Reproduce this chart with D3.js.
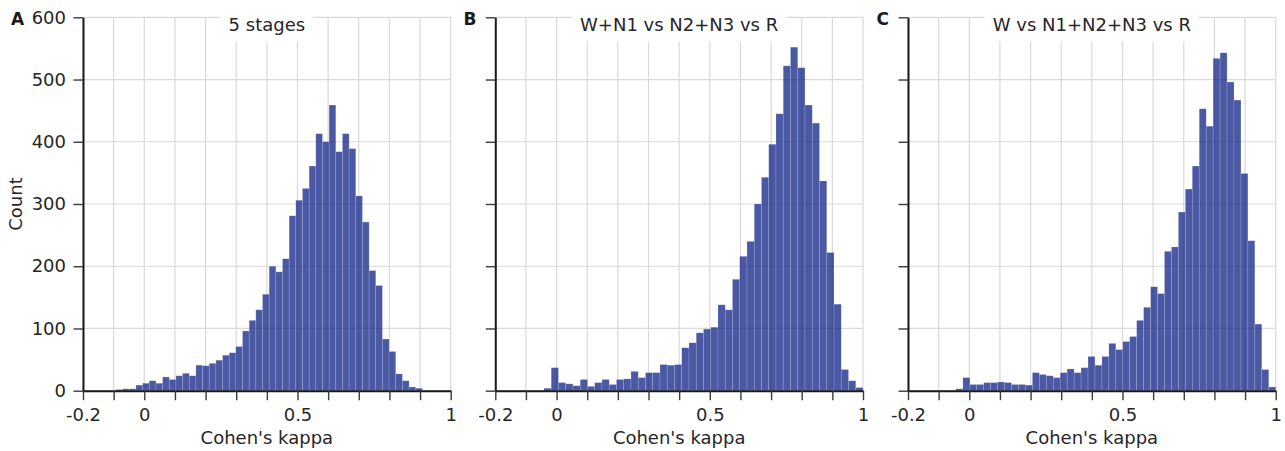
<!DOCTYPE html>
<html>
<head>
<meta charset="utf-8">
<script src="https://cdn.jsdelivr.net/npm/d3@7"></script>
<style>
  html, body { margin: 0; padding: 0; background: #ffffff; }
  svg { display: block; font-family: "DejaVu Sans", sans-serif; }
</style>
</head>
<body>
<svg id="chart" width="1285" height="451"></svg>
<script>
// ---------------- data ----------------
const panelLetters = ["A", "B", "C"];
const panelTitles = ["5 stages", "W+N1 vs N2+N3 vs R", "W vs N1+N2+N3 vs R"];
const xLabel = "Cohen's kappa";
const yLabel = "Count";
const xTickValues = [-0.2, -0.1, 0, 0.1, 0.2, 0.3, 0.4, 0.5, 0.6, 0.7, 0.8, 0.9, 1.0];
const xTickLabels = ["-0.2", "", "0", "", "", "", "", "0.5", "", "", "", "", "1"];
const yTickValues = [0, 100, 200, 300, 400, 500, 600];

// histogram bin ranges (kappa) and counts per bin
const binRangeA = [-0.0924, 0.9076];
const countsA = [2, 3, 3, 9, 12, 16, 12, 22, 18, 24, 28, 24, 41, 40, 44, 49, 57, 61, 71, 96,
  113, 130, 155, 200, 191, 212, 281, 306, 325, 361, 413, 400, 459, 384, 413, 389, 313, 271,
  193, 169, 83, 63, 27, 16, 6, 4];
const binRangeB = [-0.0412, 1.0];
const countsB = [4, 37, 13, 11, 8, 18, 7, 13, 18, 10, 18, 19, 31, 21, 29, 29, 42, 41, 42, 69,
  77, 93, 99, 102, 138, 130, 179, 216, 240, 300, 343, 396, 445, 522, 552, 519, 459, 430, 337,
  222, 139, 34, 16, 5];
const binRangeC = [-0.0435, 1.0];
const countsC = [3, 21, 10, 10, 13, 13, 14, 13, 10, 10, 9, 29, 26, 24, 21, 29, 35, 29, 37, 55,
  41, 55, 76, 66, 79, 87, 113, 134, 167, 156, 224, 231, 287, 324, 361, 453, 425, 534, 543,
  496, 467, 349, 241, 107, 34, 6];

const binRanges = [binRangeA, binRangeB, binRangeC];
const counts = [countsA, countsB, countsC];

// ---------------- layout ----------------
const panelLeft = [83, 495.3, 908];
const panelWidth = 367.7;
const plotTop = 17.3, plotBottom = 390.7;
const letterX = [17.5, 470, 882.7];
const fontSize = 18;
const barColor = "#0f2287";

const svg = d3.select("#chart");
const y = d3.scaleLinear().domain([0, 600]).range([plotBottom, plotTop]);

panelLetters.forEach((letter, p) => {
  const x0 = panelLeft[p];
  const x = d3.scaleLinear().domain([-0.2, 1.0]).range([x0, x0 + panelWidth]);
  const g = svg.append("g");

  // grid
  g.append("g").selectAll("line").data(xTickValues).join("line")
    .attr("x1", d => x(d)).attr("x2", d => x(d))
    .attr("y1", plotTop).attr("y2", plotBottom)
    .attr("stroke", "#d9d9d9").attr("stroke-width", 1.2);
  g.append("g").selectAll("line").data(yTickValues).join("line")
    .attr("x1", x0).attr("x2", x0 + panelWidth)
    .attr("y1", d => y(d)).attr("y2", d => y(d))
    .attr("stroke", "#d9d9d9").attr("stroke-width", 1.2);

  // bars
  const [lo, hi] = binRanges[p];
  const data = counts[p];
  const w = (hi - lo) / data.length;
  const bins = data.map((c, i) => ({ x0: lo + i * w, x1: lo + (i + 1) * w, c }));
  g.append("g").selectAll("rect").data(bins).join("rect")
    .attr("x", d => x(d.x0))
    .attr("width", d => x(d.x1) - x(d.x0))
    .attr("y", d => y(d.c))
    .attr("height", d => y(0) - y(d.c))
    .attr("fill", barColor).attr("fill-opacity", 0.75)
    .attr("stroke", "#ffffff").attr("stroke-opacity", 0.25).attr("stroke-width", 0.6);

  // title with white box
  const tg = g.append("g");
  const rect = tg.append("rect").attr("fill", "#ffffff");
  const t = tg.append("text")
    .attr("x", x0 + panelWidth / 2).attr("y", 31)
    .attr("text-anchor", "middle")
    .attr("font-size", fontSize).attr("fill", "#262626")
    .text(panelTitles[p]);
  const bb = t.node().getBBox();
  rect.attr("x", bb.x - 8).attr("width", bb.width + 16).attr("y", 11).attr("height", 30.5);

  // x axis
  const xAxis = d3.axisBottom(x).tickValues(xTickValues)
    .tickFormat((d, i) => xTickLabels[i]).tickSize(9.5).tickSizeOuter(0).tickPadding(8);
  const xa = g.append("g").attr("transform", `translate(0,${plotBottom})`).call(xAxis);
  xa.select(".domain").attr("stroke", "#1a1a1a").attr("stroke-width", 2);
  xa.selectAll(".tick line").attr("stroke", "#3a3a3a").attr("stroke-width", 1.4);
  xa.selectAll(".tick text").attr("font-size", fontSize).attr("fill", "#262626")
    .attr("font-family", "DejaVu Sans");

  // y axis
  const yAxis = d3.axisLeft(y).tickValues(yTickValues)
    .tickFormat(p === 0 ? d3.format("d") : () => "")
    .tickSize(9.5).tickSizeOuter(0).tickPadding(7.5);
  const ya = g.append("g").attr("transform", `translate(${x0},0)`).call(yAxis);
  ya.select(".domain").attr("stroke", "#1a1a1a").attr("stroke-width", 2);
  ya.selectAll(".tick line").attr("stroke", "#3a3a3a").attr("stroke-width", 1.4);
  ya.selectAll(".tick text").attr("font-size", fontSize).attr("fill", "#262626")
    .attr("font-family", "DejaVu Sans");

  // x label
  g.append("text")
    .attr("x", x0 + panelWidth / 2).attr("y", 443.5)
    .attr("text-anchor", "middle").attr("font-size", fontSize).attr("fill", "#262626")
    .text(xLabel);

  // panel letter
  g.append("text")
    .attr("x", letterX[p]).attr("y", 25)
    .attr("text-anchor", "middle").attr("font-size", 17).attr("font-weight", "bold")
    .attr("fill", "#1a1a1a")
    .text(letter);
});

// y label
svg.append("text")
  .attr("transform", "translate(22,204) rotate(-90)")
  .attr("text-anchor", "middle").attr("font-size", fontSize).attr("fill", "#262626")
  .text(yLabel);
</script>
</body>
</html>
